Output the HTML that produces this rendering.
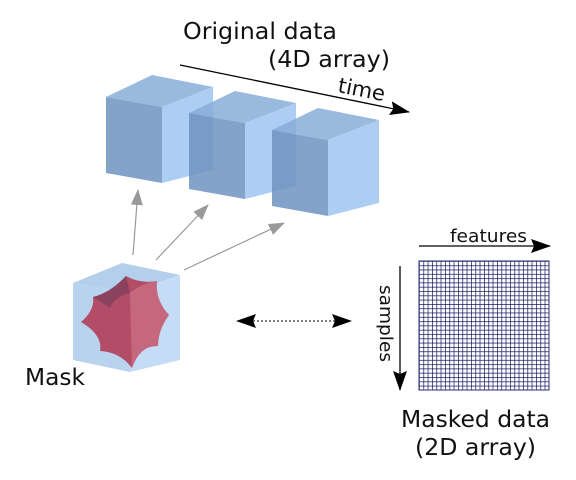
<!DOCTYPE html>
<html><head><meta charset="utf-8"><style>
html,body{margin:0;padding:0;background:#fff;}
svg{display:block;}
text{font-family:"DejaVu Sans","Liberation Sans",sans-serif;fill:#111;}
</style></head><body>
<svg width="576" height="480" viewBox="0 0 576 480" xmlns="http://www.w3.org/2000/svg">
<defs>
<marker id="ag" markerWidth="16" markerHeight="12" refX="15" refY="6" orient="auto" markerUnits="userSpaceOnUse"><path d="M0,0 L16,6 L0,12 Z" fill="#999"/></marker>
<marker id="ak" markerWidth="20" markerHeight="14" refX="19" refY="7" orient="auto" markerUnits="userSpaceOnUse"><path d="M0,0 L20,7 L0,14 L3,7 Z" fill="#000"/></marker>
<marker id="aks" markerWidth="20" markerHeight="14" refX="1" refY="7" orient="auto" markerUnits="userSpaceOnUse"><path d="M20,0 L0,7 L20,14 L17,7 Z" fill="#000"/></marker>
<g id="cube" opacity="0.85">
<polygon points="106,97 162,107 162,183 106,173" fill="#6f93c0"/>
<polygon points="162,107 213,87 213,170 162,183" fill="#9fc6f2"/>
<polygon points="106,97 152,75 213,87 162,107" fill="#88add8"/>
</g>
<pattern id="grid" width="4.333" height="4.3" patternUnits="userSpaceOnUse" x="419" y="261">
<path d="M0,0 H4.333 M0,0 V4.3" stroke="#15155e" stroke-width="1.4" fill="none"/>
</pattern>
</defs>

<text x="183" y="39" font-size="23.5" textLength="154" lengthAdjust="spacingAndGlyphs">Original data</text>
<text x="268" y="67" font-size="23.5" textLength="122" lengthAdjust="spacingAndGlyphs">(4D array)</text>
<line x1="180" y1="65" x2="409" y2="112" stroke="#000" stroke-width="1.3" marker-end="url(#ak)"/>
<text x="337" y="92" font-size="21" transform="rotate(11 337 92)">time</text>

<use href="#cube"/>
<use href="#cube" transform="translate(83,16)"/>
<use href="#cube" transform="translate(166,33)"/>

<line x1="133" y1="255" x2="138" y2="190" stroke="#999" stroke-width="1.2" marker-end="url(#ag)"/>
<line x1="156" y1="260" x2="208" y2="205" stroke="#999" stroke-width="1.2" marker-end="url(#ag)"/>
<line x1="184" y1="270" x2="284" y2="223" stroke="#999" stroke-width="1.2" marker-end="url(#ag)"/>

<polygon points="73,283 122,263 180,275 130,293" fill="#b4cfec"/>
<polygon points="73,283 130,293 130,372 73,360" fill="#b9d2ee"/>
<polygon points="130,293 180,275 180,360 130,372" fill="#c4dcf6"/>
<path d="M81,322 Q95,310 93,297 Q110,293 126,276 Q140,284 157,281 Q155,300 169,315 Q158,330 158,346 Q140,345 132,368 Q120,352 100,351 Q103,335 81,322 Z" fill="#b23e58" opacity="0.9"/>
<path d="M93,297 Q110,293 126,276 L130,293 Q115,296 110,308 Z" fill="#7e3f5c" opacity="0.75"/>
<path d="M130,293 Q140,284 157,281 Q155,300 169,315 Q158,330 158,346 Q140,345 132,368 Z" fill="#d47d92" opacity="0.55"/>
<text x="25" y="385" font-size="23.5" textLength="60" lengthAdjust="spacingAndGlyphs">Mask</text>

<line x1="237" y1="321" x2="351" y2="321" stroke="#000" stroke-width="1" stroke-dasharray="2,2" marker-end="url(#ak)" marker-start="url(#aks)"/>

<text x="450" y="242" font-size="18" textLength="77" lengthAdjust="spacingAndGlyphs">features</text>
<line x1="419" y1="246" x2="550" y2="246" stroke="#000" stroke-width="1.3" marker-end="url(#ak)"/>
<text x="0" y="0" font-size="18" textLength="77" lengthAdjust="spacingAndGlyphs" transform="translate(380,285) rotate(90)">samples</text>
<line x1="400" y1="266" x2="400" y2="390" stroke="#000" stroke-width="1.3" marker-end="url(#ak)"/>
<rect x="419" y="261" width="130" height="129" fill="url(#grid)" stroke="#2a2a7a" stroke-width="1"/>

<text x="401" y="427" font-size="23.5" textLength="149" lengthAdjust="spacingAndGlyphs">Masked data</text>
<text x="415" y="455" font-size="23.5" textLength="121" lengthAdjust="spacingAndGlyphs">(2D array)</text>
</svg>
</body></html>
